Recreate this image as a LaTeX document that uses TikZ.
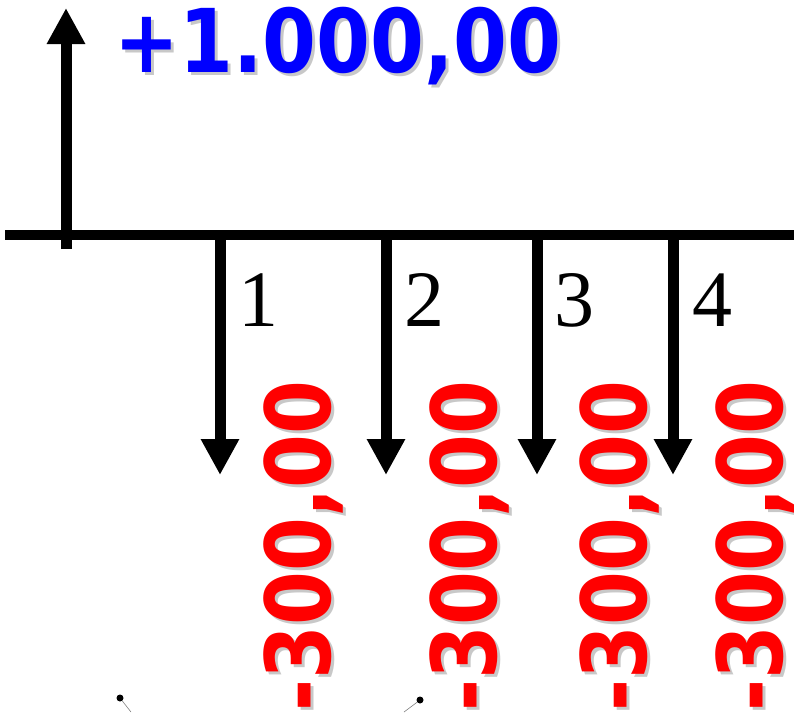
\documentclass[tikz,border=0pt]{standalone}
\usepackage{fontspec}
\usetikzlibrary{arrows.meta}
\newfontfamily\dvfont{DejaVu Sans}
\newfontfamily\serfont{Liberation Serif}
\definecolor{cfblue}{RGB}{0,0,255}
\definecolor{cfred}{RGB}{255,0,0}
\definecolor{shadowgray}{RGB}{200,200,200}
\tikzset{
  flowarrow/.style={line width=11pt,-{Triangle[width=36pt,length=36pt]}},
  axisline/.style={line width=10.5pt},
  periodlabel/.style={inner sep=0pt,anchor=base,font=\serfont\fontsize{80}{80}\selectfont},
  outlabel/.style={inner sep=0pt,anchor=base,rotate=90,font=\dvfont\bfseries\fontsize{90}{90}\selectfont},
  inlabel/.style={inner sep=0pt,anchor=base,font=\dvfont\bfseries\fontsize{88}{88}\selectfont},
  dotmark/.style={circle,fill=black,inner sep=0pt,minimum size=7pt},
}
\newcommand{\outtext}{\scalebox{0.86}[1]{-300,00}}
\newcommand{\intext}{\scalebox{0.88}[1]{+1.000,00}}
\begin{document}
\begin{tikzpicture}[x=1pt,y=-1pt]
\useasboundingbox (0,0) rectangle (794,712);
% time axis
\coordinate (axL) at (5,235);
\coordinate (axR) at (794,235);
\draw[axisline] (axL) -- (axR);
% inflow
\coordinate (u0) at (66,249);
\coordinate (u1) at (66,8);
\draw[flowarrow] (u0) -- (u1);
\node[inlabel,text=shadowgray] (inS) at (341,75) {\intext};
\node[inlabel,text=cfblue] (in) at (338,72) {\intext};
% outflows
\foreach \i/\x/\lx/\bx in {1/220/258/330, 2/386/424/496, 3/537/574/646, 4/673/712/782}{
  \coordinate (d\i) at (\x,235);
  \coordinate (t\i) at (\x,475);
  \draw[flowarrow] (d\i) -- (t\i);
  \node[periodlabel] (p\i) at (\lx,326) {\i};
  \node[outlabel,text=shadowgray] (oS\i) at (\bx+3,549) {\outtext};
  \node[outlabel,text=cfred] (o\i) at (\bx,546) {\outtext};
}
% small marks at bottom
\node[dotmark] (m1) at (120,698) {};
\node[dotmark] (m2) at (420,700) {};
\coordinate (m1e) at (131,712);
\coordinate (m2e) at (404,712);
\draw[gray,line width=0.6pt] (m1) -- (m1e);
\draw[gray,line width=0.6pt] (m2) -- (m2e);
\end{tikzpicture}
\end{document}
